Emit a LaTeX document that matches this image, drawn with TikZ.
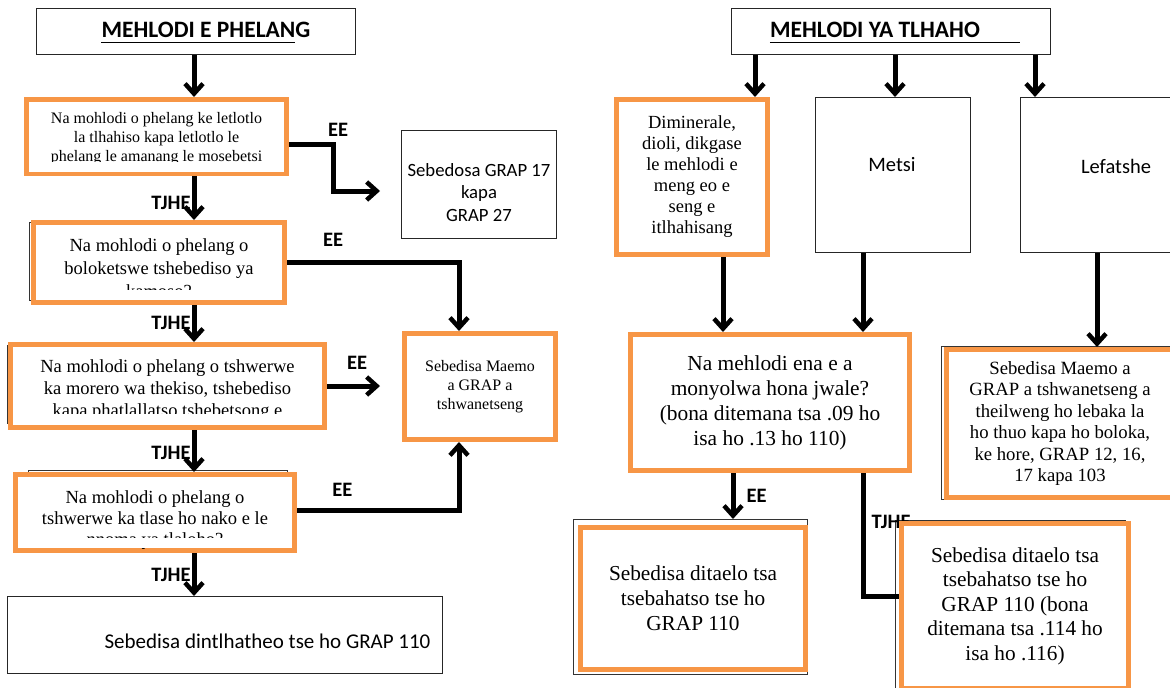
\documentclass[tikz,border=0pt]{standalone}
\usepackage{fontspec}
\setmainfont{Liberation Serif}
\newfontfamily\carlito{Carlito}
\usepackage{tikz}
\usetikzlibrary{positioning,arrows.meta}
\definecolor{boxorange}{HTML}{F79646}
\newcommand{\fsz}[2]{\fontsize{#1}{#2}\selectfont}

\begin{document}
\begin{tikzpicture}[x=1pt,y=-1pt,
  plain/.style={draw=black!85,line width=1,fill=white,inner sep=0},
  qbox/.style={draw=boxorange,line width=5,fill=white,inner sep=0,align=center},
  ghost/.style={draw=black!80,line width=1},
  arrow/.style={line width=5,-{Straight Barb[length=10pt,width=18pt,line width=4.5pt]}},
  link/.style={line width=5},
  lab/.style={font=\carlito\bfseries\fsz{20.5}{20.5},inner sep=0},
  txt/.style={align=center,inner sep=0}
]
  \path[fill=white,use as bounding box] (0,0) rectangle (1170,688);
  \coordinate (colL) at (194,0);
  \coordinate (colM) at (459,0);

  % stray frames showing behind the orange boxes
  \draw[ghost] (29,222) rectangle (285,300);
  \draw[ghost] (7,345) rectangle (320,423);
  \draw[ghost] (28,470.5) rectangle (287,540);
  \draw[ghost] (941.5,346) rectangle (1170,499);
  \draw[ghost] (573,519) rectangle (807,674);
  \draw[ghost] (895,520) rectangle (1125,700);

  % left: mehlodi e phelang
  \node[plain,minimum width=319,minimum height=46] (titleL) at (196,31.5) {};
  \node[inner sep=0,font=\carlito\bfseries\fsz{23.5}{23.5}] (titleLt) at (206,30)
    {MEHLODI E PHELANG};
  \draw[line width=1.7] ([yshift=-5]titleLt.base west) -- ++(194,0);

  \node[qbox,minimum width=260,minimum height=74] (q1) at (156.5,136.5) {};
  \node[txt,font=\fsz{16}{19}] (q1t) at (156.5,139)
    {Na mohlodi o phelang ke letlotlo\\la tlhahiso kapa letlotlo le\\
     phelang le amanang le mosebetsi};
  \fill[white] (29,162) rectangle (284,171.5);

  \node[plain,minimum width=155,minimum height=108] (g17) at (479,184.5) {};
  \node[txt,font=\carlito\fsz{18.7}{22.5}] (g17t) at (479,192.5)
    {Sebedosa GRAP 17\\kapa\\GRAP 27};

  \node[qbox,minimum width=251,minimum height=80] (q2) at (159,262.5) {};
  \node[txt,font=\fsz{18.5}{23}] (q2t) at (159,268)
    {Na mohlodi o phelang o\\boloketswe tshebediso ya\\kamoso?};
  \fill[white] (36,290) rectangle (282,300);

  \node[qbox,minimum width=151,minimum height=106,font=\fsz{16}{19}] (maemoL)
    at (480,386.5) {Sebedisa Maemo\\a GRAP a\\tshwanetseng};

  \node[qbox,minimum width=314,minimum height=83] (q3) at (167.5,386) {};
  \node[txt,font=\fsz{18.5}{22}] (q3t) at (167.5,390)
    {Na mohlodi o phelang o tshwerwe\\ka morero wa thekiso, tshebediso\\
     kapa phatlallatso tshebetsong e};
  \fill[white] (13,414) rectangle (322,425);

  \node[qbox,minimum width=279,minimum height=76] (q4) at (155,512.5) {};
  \node[txt,font=\fsz{18.5}{21}] (q4t) at (155,520)
    {Na mohlodi o phelang o\\tshwerwe ka tlase ho nako e le\\nnoma ya tlaloho?};
  \fill[white] (18,538) rectangle (292,548);

  \node[plain,minimum width=435,minimum height=77] (botL) at (225,635) {};
  \node[inner sep=0,font=\carlito\fsz{21}{21}] (botLt) at (267.5,641)
    {Sebedisa dintlhatheo tse ho GRAP 110};

  \draw[arrow] (titleL.south -| colL) -- (q1.north -| colL);
  \coordinate (ee1) at (380,191);
  \draw[arrow] ([yshift=-7.5]q1.east) -- ++(44,0)
    node[lab,above=5pt,xshift=5pt] {EE} |- (ee1);
  \draw[arrow] (q1.south -| colL) -- node[lab,pos=0.61,left=1pt] {TJHE} (q2.north -| colL);
  \draw[arrow] (q2.east) -| node[lab,pos=0.134,above=14pt] {EE} (maemoL.north -| colM);
  \draw[arrow] (q2.south -| colL) -- node[lab,pos=0.49,left=1pt] {TJHE} (q3.north -| colL);
  \coordinate (ee3) at (380,386);
  \draw[arrow] (q3.east) -- node[lab,pos=0.57,above=14pt] {EE} (ee3);
  \draw[arrow] (q3.south -| colL) -- node[lab,pos=0.55,left=1pt] {TJHE} (q4.north -| colL);
  \draw[arrow] ([yshift=2.5]q4.east) -| node[lab,pos=0.14,above=11pt] {EE} (maemoL.south -| colM);
  \draw[arrow] (q4.south -| colL) -- node[lab,pos=0.51,left=1pt] {TJHE} (botL.north -| colL);

  % right: mehlodi ya tlhaho
  \coordinate (c1) at (755,0);
  \coordinate (c2) at (895,0);
  \coordinate (c3) at (1035,0);
  \coordinate (cd) at (723,0);
  \coordinate (cm) at (863,0);
  \coordinate (cl) at (1097,0);
  \coordinate (ce) at (733,0);
  \coordinate (tjEnd) at (899,596);

  \node[plain,minimum width=319,minimum height=46] (titleR) at (891,31.5) {};
  \node[inner sep=0,font=\carlito\bfseries\fsz{23.5}{23.5}] (titleRt) at (875,30)
    {MEHLODI YA TLHAHO};
  \draw[line width=1.7] ([yshift=-5]titleRt.base west) -- ++(250,0);

  \node[qbox,minimum width=151,minimum height=155,font=\fsz{18.5}{21}] (dimin)
    at (692,177) {Diminerale,\\dioli, dikgase\\le mehlodi e\\meng eo e\\seng e\\itlhahisang};
  \node[plain,minimum width=155,minimum height=155] (metsi) at (893,175) {};
  \node[inner sep=0,font=\carlito\fsz{20.5}{20.5}] (metsit) at (892,165) {Metsi};
  \node[plain,minimum width=192,minimum height=155] (lefat) at (1116.5,175) {};
  \node[inner sep=0,font=\carlito\fsz{20.5}{20.5}] (lefatt) at (1116,166) {Lefatshe};

  \node[qbox,minimum width=279,minimum height=136,font=\fsz{21.4}{25}] (nmq)
    at (770,402.5) {Na mehlodi ena e a\\monyolwa hona jwale?\\
    (bona ditemana tsa .09 ho\\isa ho .13 ho 110)};
  \node[qbox,minimum width=227,minimum height=148,font=\fsz{18.7}{21.5}] (maemoR)
    at (1060,423.5) {Sebedisa Maemo a\\GRAP a tshwanetseng a\\theilweng ho lebaka la\\
    ho thuo kapa ho boloka,\\ke hore, GRAP 12, 16,\\17 kapa 103};

  \draw[link] (nmq.south -| cm) |- node[lab,pos=0.2,right=6pt] {TJHE} (tjEnd);

  \node[qbox,minimum width=225,minimum height=142,font=\fsz{21.3}{25}] (ditL)
    at (693,598.5) {Sebedisa ditaelo tsa\\tsebahatso tse ho\\GRAP 110};
  \node[qbox,minimum width=227,minimum height=165,font=\fsz{21.3}{24.5}] (ditR)
    at (1015,606) {Sebedisa ditaelo tsa\\tsebahatso tse ho\\GRAP 110 (bona\\
    ditemana tsa .114 ho\\isa ho .116)};

  \draw[arrow] (titleR.south -| c1) -- (dimin.north -| c1);
  \draw[arrow] (titleR.south -| c2) -- (metsi.north -| c2);
  \draw[arrow] (titleR.south -| c3) -- (lefat.north -| c3);
  \draw[arrow] (dimin.south -| cd) -- (nmq.north -| cd);
  \draw[arrow] (metsi.south -| cm) -- (nmq.north -| cm);
  \draw[arrow] (lefat.south -| cl) -- (maemoR.north -| cl);
  \draw[arrow] (nmq.south -| ce) -- node[lab,right=11pt] {EE} ([yshift=6]ditL.north -| ce);
\end{tikzpicture}
\end{document}
